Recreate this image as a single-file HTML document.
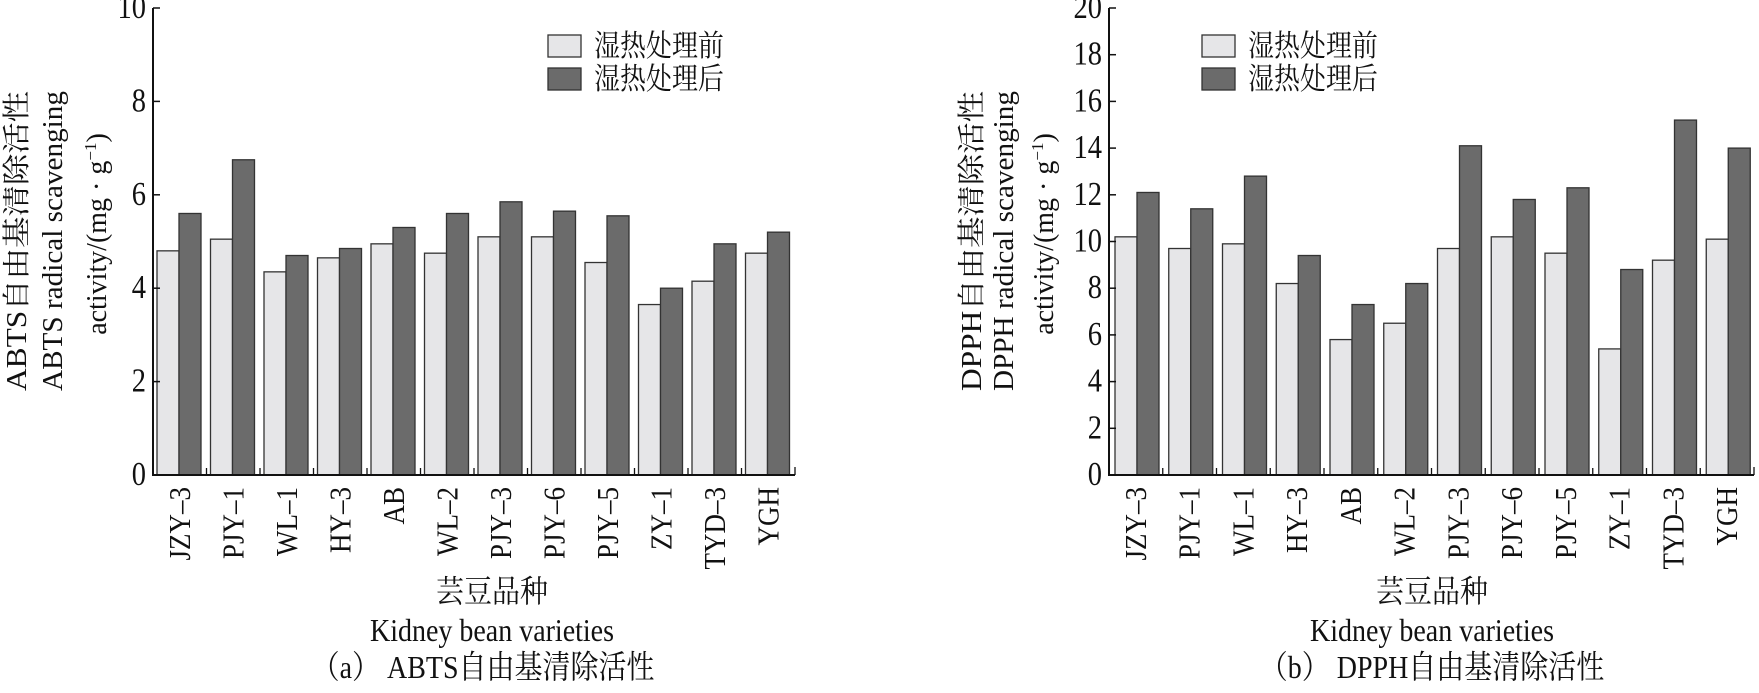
<!DOCTYPE html>
<html><head><meta charset="utf-8"><style>
html,body{margin:0;padding:0;background:#fff;}
svg text{font-family:"Liberation Serif","Noto Serif CJK SC","Noto Sans CJK SC",serif;fill:#111;}
</style></head><body>
<svg width="1759" height="688" viewBox="0 0 1759 688" xmlns="http://www.w3.org/2000/svg">
<g id="left"></g><g id="right"></g>
<script><![CDATA[
var NS="http://www.w3.org/2000/svg";
function el(p,t,a,txt){var e=document.createElementNS(NS,t);for(var k in a)e.setAttribute(k,a[k]);if(txt!=null)e.textContent=txt;p.appendChild(e);return e;}
var names=["JZY–3","PJY–1","WL–1","HY–3","AB","WL–2","PJY–3","PJY–6","PJY–5","ZY–1","TYD–3","YGH"];
function chart(g,o){
 var x0=o.x0,y0=475,gw=o.gw,ppu=o.ppu;
 for(var i=0;i<12;i++){
  var gx=x0+i*gw;
  var h1=o.a[i]*ppu,h2=o.b[i]*ppu;
  el(g,"rect",{x:gx+o.off,y:y0-h1,width:22,height:h1,fill:"#e6e6e8",stroke:"#333","stroke-width":1.3});
  el(g,"rect",{x:gx+o.off+22,y:y0-h2,width:22,height:h2,fill:"#6b6b6b",stroke:"#333","stroke-width":1.3});
  if(i>0) el(g,"line",{x1:gx,y1:y0,x2:gx,y2:y0-7,stroke:"#111","stroke-width":1.3});
  var cx=gx+gw/2;
  el(g,"text",{x:0,y:0,"font-size":27,"text-anchor":"end",transform:"translate("+(cx+10)+",487) rotate(-90) scale(1,1.12)"},names[i]);
 }
 var xe=x0+12*gw;
 el(g,"line",{x1:x0,y1:y0,x2:xe,y2:y0,stroke:"#111","stroke-width":2});
 el(g,"line",{x1:xe,y1:y0,x2:xe,y2:y0-8,stroke:"#111","stroke-width":1.3});
 el(g,"line",{x1:x0,y1:y0+1,x2:x0,y2:8,stroke:"#111","stroke-width":2});
 for(var v=0;v<=o.max;v+=o.step){
  var y=y0-v*ppu;
  el(g,"line",{x1:x0,y1:y,x2:x0+7,y2:y,stroke:"#111","stroke-width":1.5});
  el(g,"text",{x:0,y:0,"font-size":30,"text-anchor":"end",transform:"translate("+(x0-7)+","+(y+10)+") scale(0.95,1.12)"},String(v));
 }
 el(g,"rect",{x:o.lx,y:35,width:33,height:22,fill:"#e6e6e8",stroke:"#333","stroke-width":1.3});
 el(g,"rect",{x:o.lx,y:68,width:33,height:22,fill:"#6b6b6b",stroke:"#333","stroke-width":1.3});
 el(g,"text",{x:0,y:0,"font-size":26,transform:"translate("+(o.lx+46)+",56) scale(1,1.15)"},"湿热处理前");
 el(g,"text",{x:0,y:0,"font-size":26,transform:"translate("+(o.lx+46)+",89) scale(1,1.15)"},"湿热处理后");
 var t=o.tx;
 el(g,"text",{x:0,y:0,"font-size":28,"text-anchor":"middle",textLength:300,lengthAdjust:"spacingAndGlyphs",transform:"translate("+t[0]+",241) rotate(-90)"},o.t1);
 el(g,"text",{x:0,y:0,"font-size":28,"text-anchor":"middle",textLength:300,lengthAdjust:"spacingAndGlyphs",transform:"translate("+t[1]+",241) rotate(-90)"},o.t2);
 var tt=el(g,"text",{x:0,y:0,"font-size":28,"text-anchor":"middle",transform:"translate("+t[2]+",234) rotate(-90)"});
 tt.textContent="activity/(mg · g";
 el(tt,"tspan",{dy:-10,"font-size":17},"−1");
 el(tt,"tspan",{dy:10},")");
 var c=o.cx;
 el(g,"text",{x:0,y:0,"font-size":28,"text-anchor":"middle",transform:"translate("+c+",602) scale(1,1.12)"},"芸豆品种");
 el(g,"text",{x:0,y:0,"font-size":28,"text-anchor":"middle",transform:"translate("+c+",641) scale(1,1.15)"},"Kidney bean varieties");
 el(g,"text",{x:0,y:0,"font-size":28,"text-anchor":"middle",transform:"translate("+o.capx+",678) scale(1,1.15)"},o.cap);
}
chart(document.getElementById("left"),{x0:153,gw:53.5,ppu:46.7,off:4,max:10,step:2,lx:548,
 a:[4.8,5.05,4.35,4.65,4.95,4.75,5.1,5.1,4.55,3.65,4.15,4.75],
 b:[5.6,6.75,4.7,4.85,5.3,5.6,5.85,5.65,5.55,4.0,4.95,5.2],
 tx:[26,62,106],t1:"ABTS自由基清除活性",t2:"ABTS radical scavenging",cx:492,capx:483,cap:"（a） ABTS自由基清除活性"});
chart(document.getElementById("right"),{x0:1109,gw:53.75,ppu:23.35,off:6,max:20,step:2,lx:1202,
 a:[10.2,9.7,9.9,8.2,5.8,6.5,9.7,10.2,9.5,5.4,9.2,10.1],
 b:[12.1,11.4,12.8,9.4,7.3,8.2,14.1,11.8,12.3,8.8,15.2,14.0],
 tx:[981,1013,1053],t1:"DPPH自由基清除活性",t2:"DPPH radical scavenging",cx:1432,capx:1432,cap:"（b） DPPH自由基清除活性"});
]]></script>
</svg>
</body></html>
